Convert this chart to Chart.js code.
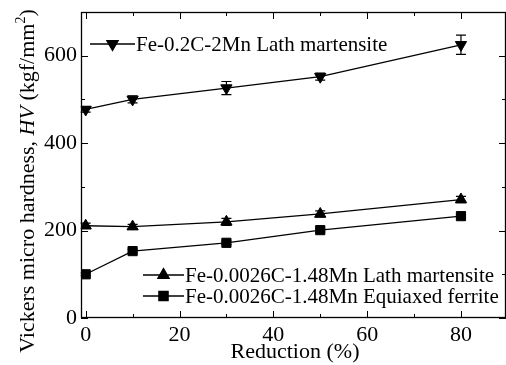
<!DOCTYPE html>
<html>
<head>
<meta charset="utf-8">
<script src="https://cdn.jsdelivr.net/npm/chart.js@4/dist/chart.umd.min.js"></script>
<style>
    html, body { margin: 0; padding: 0; background: #fff; overflow: hidden; }
    #wrap { width: 506px; height: 365px; }
</style>
</head>
<body>
<div id="wrap"><canvas id="myChart"></canvas></div>
<script>
const reduction = [0, 10, 30, 50, 80];

const hvMart02C = [477, 500, 526, 552, 625];
const errMart02C = [6, 8, 15, 8, 22];

const hvMartLowC = [211, 209, 220, 238, 271];
const errMartLowC = [6, 5, 8, 7, 7];

const hvFerrite = [100, 153, 172, 201, 233];
const errFerrite = [3, 4, 4, 4, 4];

const seriesNames = [
    'Fe-0.2C-2Mn Lath martensite',
    'Fe-0.0026C-1.48Mn Lath martensite',
    'Fe-0.0026C-1.48Mn Equiaxed ferrite'
];

const xMajorTicks = [0, 20, 40, 60, 80];
const xMinorTicks = [10, 30, 50, 70];
const yMajorTicks = [0, 200, 400, 600];
const yMinorTicks = [100, 300, 500];

const FONT = '"Liberation Serif", "Times New Roman", serif';

function toPoints(ys)
{
    return reduction.map((x, i) => ({ x: x, y: ys[i] }));
}

function makeSet(label, ys, errs, style, rotation)
{
    return {
        label: label,
        data: toPoints(ys),
        errors: errs,
        borderColor: '#000',
        backgroundColor: '#000',
        borderWidth: 1.3,
        pointStyle: style,
        rotation: rotation,
        pointRadius: 6.5,
        pointBorderWidth: 1,
        pointBackgroundColor: '#000',
        tension: 0,
    };
}

// error bars, frame, inward ticks, axis titles and the two legends
const decorations = {
    id: 'decorations',
    beforeDatasetsDraw(chart) {
        const ctx = chart.ctx;
        const xs = chart.scales.x;
        const ys = chart.scales.y;
        ctx.save();
        ctx.strokeStyle = '#000';
        ctx.lineWidth = 1.2;
        chart.data.datasets.forEach((ds) => {
            ds.data.forEach((p, i) => {
                const e = ds.errors[i];
                const px = xs.getPixelForValue(p.x);
                const top = ys.getPixelForValue(p.y + e);
                const bot = ys.getPixelForValue(p.y - e);
                ctx.beginPath();
                ctx.moveTo(px, top);
                ctx.lineTo(px, bot);
                ctx.moveTo(px - 5, top);
                ctx.lineTo(px + 5, top);
                ctx.moveTo(px - 5, bot);
                ctx.lineTo(px + 5, bot);
                ctx.stroke();
            });
        });
        ctx.restore();
    },
    afterDraw(chart) {
        const ctx = chart.ctx;
        const a = chart.chartArea;
        const xs = chart.scales.x;
        const ys = chart.scales.y;
        ctx.save();
        ctx.strokeStyle = '#000';
        ctx.lineWidth = 1.3;
        ctx.strokeRect(a.left + 0.5, a.top + 0.5, a.right - a.left - 1, a.bottom - a.top - 1);

        ctx.lineWidth = 1;
        const tick = (vals, len, isX) => {
            vals.forEach((v) => {
                ctx.beginPath();
                if (isX) {
                    const px = Math.round(xs.getPixelForValue(v)) + 0.5;
                    ctx.moveTo(px, a.bottom);
                    ctx.lineTo(px, a.bottom - len);
                    ctx.moveTo(px, a.top);
                    ctx.lineTo(px, a.top + len);
                } else {
                    const py = Math.round(ys.getPixelForValue(v)) + 0.5;
                    ctx.moveTo(a.left, py);
                    ctx.lineTo(a.left + len, py);
                    ctx.moveTo(a.right, py);
                    ctx.lineTo(a.right - len, py);
                }
                ctx.stroke();
            });
        };
        tick(xMajorTicks, 7, true);
        tick(xMinorTicks, 4, true);
        tick(yMajorTicks, 7, false);
        tick(yMinorTicks, 4, false);

        // axis titles
        ctx.fillStyle = '#000';
        ctx.textBaseline = 'middle';
        ctx.textAlign = 'center';
        ctx.font = '22px ' + FONT;
        ctx.fillText('Reduction (%)', 295, 352);

        ctx.save();
        ctx.translate(28, 181);
        ctx.rotate(-Math.PI / 2);
        const parts = [
            ['Vickers micro hardness, ', ''],
            ['HV', 'italic '],
            [' (kgf/mm', ''],
            ['2', ''],
            [')', '']
        ];
        let total = 0;
        parts.forEach((pt, i) => {
            ctx.font = pt[1] + (i === 3 ? '14px ' : '22px ') + FONT;
            total += ctx.measureText(pt[0]).width;
        });
        let cx = -total / 2;
        ctx.textAlign = 'left';
        parts.forEach((pt, i) => {
            ctx.font = pt[1] + (i === 3 ? '14px ' : '22px ') + FONT;
            ctx.fillText(pt[0], cx, i === 3 ? -7 : 0);
            cx += ctx.measureText(pt[0]).width;
        });
        ctx.restore();

        // legends
        const entries = [
            { ds: 0, x0: 90, x1: 135, y: 44 },
            { ds: 1, x0: 143, x1: 184, y: 275 },
            { ds: 2, x0: 143, x1: 184, y: 296 }
        ];
        ctx.font = '21px ' + FONT;
        ctx.textAlign = 'left';
        entries.forEach((en) => {
            const ds = chart.data.datasets[en.ds];
            ctx.lineWidth = 1.3;
            ctx.beginPath();
            ctx.moveTo(en.x0, en.y);
            ctx.lineTo(en.x1, en.y);
            ctx.stroke();
            Chart.helpers.drawPoint(ctx, {
                pointStyle: ds.pointStyle,
                rotation: ds.rotation,
                radius: ds.pointRadius,
                borderWidth: 1
            }, (en.x0 + en.x1) / 2, en.y);
            ctx.fill();
            ctx.fillText(seriesNames[en.ds], en.x1 + 1, en.y + 1);
        });
        ctx.restore();
    }
};

const config = {
    type: 'line',
    data: {
        datasets: [
            makeSet(seriesNames[0], hvMart02C, errMart02C, 'triangle', 180),
            makeSet(seriesNames[1], hvMartLowC, errMartLowC, 'triangle', 0),
            makeSet(seriesNames[2], hvFerrite, errFerrite, 'rect', 0)
        ]
    },
    options: {
        responsive: true,
        maintainAspectRatio: false,
        animation: false,
        layout: {
            autoPadding: false,
            padding: { top: 12, right: -3, left: 0, bottom: 0 }
        },
        plugins: {
            legend: { display: false },
            tooltip: { enabled: false }
        },
        scales: {
            x: {
                type: 'linear',
                min: -1,
                max: 89.6,
                grid: { display: false },
                border: { display: false },
                afterBuildTicks: (s) => { s.ticks = xMajorTicks.map(v => ({ value: v })); },
                afterFit: (s) => {
                    s.height = 47;
                    s.paddingLeft = 0;
                    s.paddingRight = 0;
                },
                ticks: {
                    color: '#000',
                    padding: -4,
                    font: { family: FONT, size: 22 }
                }
            },
            y: {
                type: 'linear',
                min: 0,
                max: 700,
                grid: { display: false },
                border: { display: false },
                afterBuildTicks: (s) => { s.ticks = yMajorTicks.map(v => ({ value: v })); },
                afterFit: (s) => {
                    s.width = 81;
                    s.paddingTop = 0;
                    s.paddingBottom = 0;
                },
                ticks: {
                    color: '#000',
                    padding: -4,
                    font: { family: FONT, size: 22 }
                }
            }
        }
    },
    plugins: [decorations]
};

const ctx = document.getElementById('myChart').getContext('2d');

if (ctx) {
    new Chart(ctx, config);
}
</script>
</body>
</html>
